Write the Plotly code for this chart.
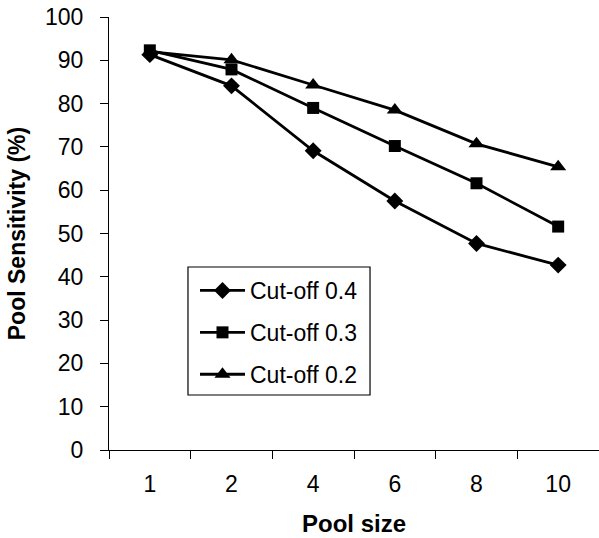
import plotly.graph_objects as go

categories = ["1", "2", "4", "6", "8", "10"]
cut04 = [91.3, 84.1, 69.1, 57.5, 47.7, 42.7]
cut03 = [92.3, 87.9, 79.0, 70.2, 61.6, 51.6]
cut02 = [92.0, 90.1, 84.3, 78.5, 70.7, 65.4]
names = ["Cut-off 0.4", "Cut-off 0.3", "Cut-off 0.2"]
symbols = ["diamond", "square", "triangle-up"]
sizes = [13, 12, 14]

fig = go.Figure()
for i, (vals, name) in enumerate(zip([cut04, cut03, cut02], names)):
    fig.add_trace(go.Scatter(
        x=categories, y=vals, name=name, mode="lines+markers",
        line=dict(color="black", width=2.8),
        marker=dict(symbol=symbols[i], size=sizes[i], color="black"),
        legendgroup=f"g{i}",
    ))

# legend frame
fig.add_shape(type="rect", xref="paper", yref="paper",
              x0=0.1612, x1=0.5327, y0=0.127, y1=0.4226,
              line=dict(color="black", width=1.2), fillcolor="rgba(0,0,0,0)", layer="below")

fig.update_layout(
    width=599, height=538,
    margin=dict(l=109, r=0, t=17, b=88),
    paper_bgcolor="white", plot_bgcolor="white",
    font=dict(family="Liberation Sans, Arial, sans-serif", size=23, color="black"),
    showlegend=True,
    legend=dict(
        x=0.1755, y=0.418, xanchor="left", yanchor="top",
        borderwidth=0, bgcolor="rgba(0,0,0,0)",
        font=dict(size=23), tracegroupgap=9, itemwidth=45,
    ),
    xaxis=dict(
        type="category", range=[-0.5, 5.5],
        showline=True, linecolor="black", linewidth=1.2,
        ticks="outside", tickson="boundaries", ticklen=8, tickcolor="black",
        tickfont=dict(size=23), ticklabelstandoff=13,
        showgrid=False, zeroline=False,
        title=dict(text="<b>Pool size</b>", font=dict(size=24), standoff=19),
    ),
    yaxis=dict(
        range=[0, 100], tickvals=list(range(0, 101, 10)),
        showline=True, linecolor="black", linewidth=1.2,
        ticks="outside", ticklen=8, tickcolor="black",
        tickfont=dict(size=23), ticklabelstandoff=12,
        showgrid=False, zeroline=False,
        title=dict(text="<b>Pool Sensitivity (%)</b>", font=dict(size=23), standoff=12),
    ),
)

fig.write_html("out.html")
